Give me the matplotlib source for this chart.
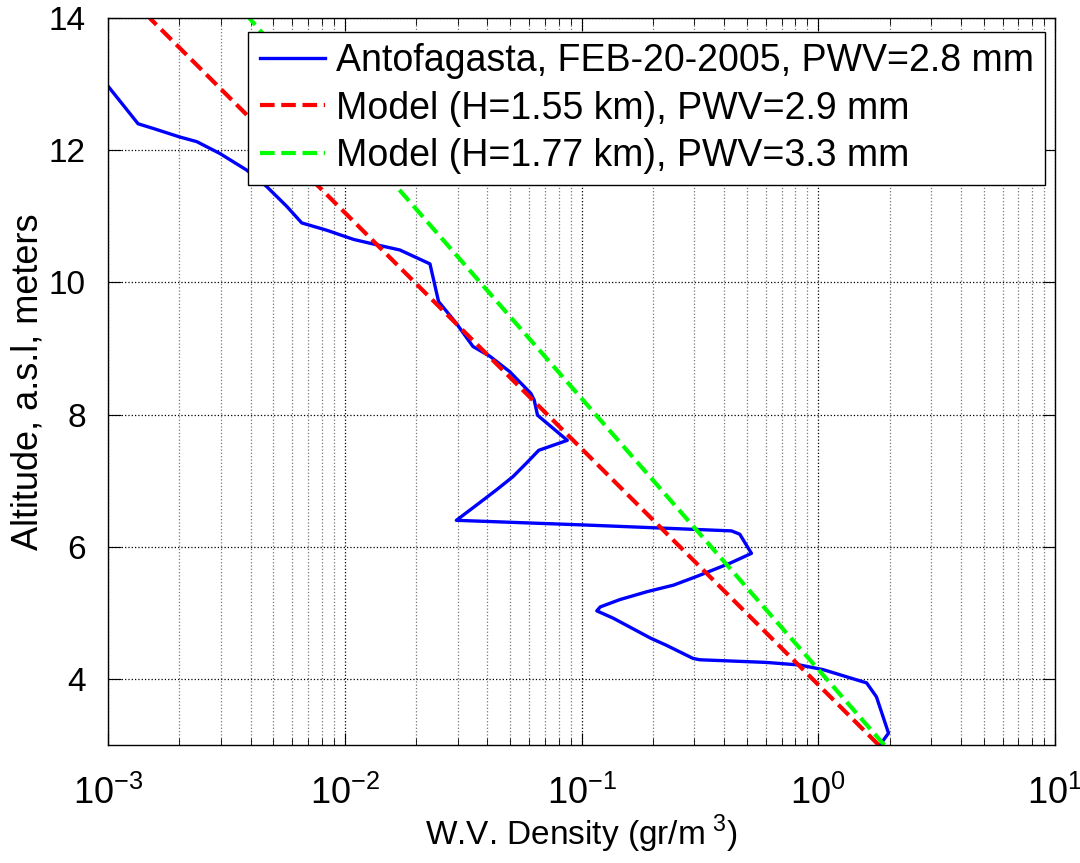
import matplotlib
matplotlib.use("Agg")
import matplotlib.pyplot as plt
import numpy as np

plt.rcParams['font.family'] = ['Liberation Sans', 'DejaVu Sans']
plt.rcParams['mathtext.fontset'] = 'custom'
plt.rcParams['mathtext.rm'] = 'Liberation Sans'

# measured profile (density gr/m^3, altitude km)
sonde_rho = [1.0e-3, 1.34e-3, 1.55e-3, 2.01e-3, 2.37e-3, 2.97e-3, 3.85e-3, 4.68e-3,
             5.69e-3, 6.58e-3, 8.38e-3, 1.09e-2, 1.36e-2, 1.71e-2, 2.29e-2, 2.49e-2,
             2.96e-2, 3.48e-2, 4.11e-2, 4.97e-2, 6.11e-2, 6.31e-2, 6.52e-2, 8.71e-2,
             6.6e-2, 5.83e-2, 5.13e-2, 4.37e-2, 3.60e-2, 2.96e-2, 0.102, 0.228,
             0.430, 0.466, 0.522, 0.423, 0.306, 0.245, 0.189, 0.145, 0.120, 0.116,
             0.136, 0.195, 0.228, 0.296, 0.316, 0.603, 0.838, 1.05, 1.60, 1.76,
             1.98, 1.82]
sonde_alt = [12.97, 12.40, 12.33, 12.20, 12.13, 11.95, 11.70, 11.45,
             11.15, 10.90, 10.79, 10.65, 10.57, 10.49, 10.28, 9.71,
             9.38, 9.03, 8.88, 8.65, 8.32, 8.22, 7.99, 7.61,
             7.46, 7.26, 7.06, 6.86, 6.63, 6.40, 6.33, 6.28,
             6.24, 6.19, 5.90, 5.75, 5.55, 5.42, 5.32, 5.20, 5.09, 5.03,
             4.92, 4.62, 4.51, 4.31, 4.29, 4.25, 4.21, 4.14, 3.94, 3.73,
             3.18, 3.0]

# model lines (end points)
model1_rho = [1.80, 1.5e-3]
model1_alt = [3.0, 14.0]
model2_rho = [1.90, 3.95e-3]
model2_alt = [3.0, 14.0]

labels = ['Antofagasta, FEB-20-2005, PWV=2.8 mm',
          'Model (H=1.55 km), PWV=2.9 mm',
          'Model (H=1.77 km), PWV=3.3 mm']

fig = plt.figure(figsize=(10.8, 8.63), dpi=100)
ax = fig.add_axes([0.1, 0.1367, 0.8769, 0.8424])

ax.plot(sonde_rho, sonde_alt, color='#0000ff', lw=2.4, label=labels[0])
ax.plot(model1_rho, model1_alt, color='#ff0000', lw=3, dashes=(3.5, 1.6), label=labels[1])
ax.plot(model2_rho, model2_alt, color='#00ff00', lw=3, dashes=(3.5, 1.6), label=labels[2])

ax.set_xscale('log')
ax.set_xlim(1e-3, 10)
ax.set_ylim(3, 14)
ax.set_yticks([4, 6, 8, 10, 12, 14])
ax.set_xticks([1e-3, 1e-2, 1e-1, 1e0, 1e1])
ax.set_xticklabels([r'$10^{-3}$', r'$10^{-2}$', r'$10^{-1}$', r'$10^{0}$', r'$10^{1}$'])

ax.grid(True, which='major', color='black', linestyle=':', lw=0.9)
ax.grid(True, which='minor', axis='x', color='#777777', linestyle=':', lw=0.9)
ax.tick_params(which='both', direction='in', top=True, right=True)
ax.tick_params(axis='x', which='major', labelsize=26, length=9, pad=22)
ax.tick_params(axis='y', which='major', labelsize=24, length=9, pad=16)
ax.tick_params(which='minor', length=5)
ax.tick_params(axis='y', which='minor', left=False, right=False)
for s in ax.spines.values():
    s.set_linewidth(1.0)

ax.set_xlabel(r'W.V. Density (gr/m$^{\ 3}$)', fontsize=24, labelpad=1)
ax.set_ylabel('Altitude, a.s.l, meters', fontsize=26, labelpad=2)

leg = ax.legend(loc='upper right', bbox_to_anchor=(0.9894, 0.9807), fontsize=27,
                frameon=True, fancybox=False, framealpha=1, edgecolor='black',
                handlelength=1.75, handletextpad=0.28, borderpad=0.3,
                labelspacing=0.3, borderaxespad=0)
leg.get_frame().set_linewidth(1.0)

fig.savefig('out.png', dpi=100)
